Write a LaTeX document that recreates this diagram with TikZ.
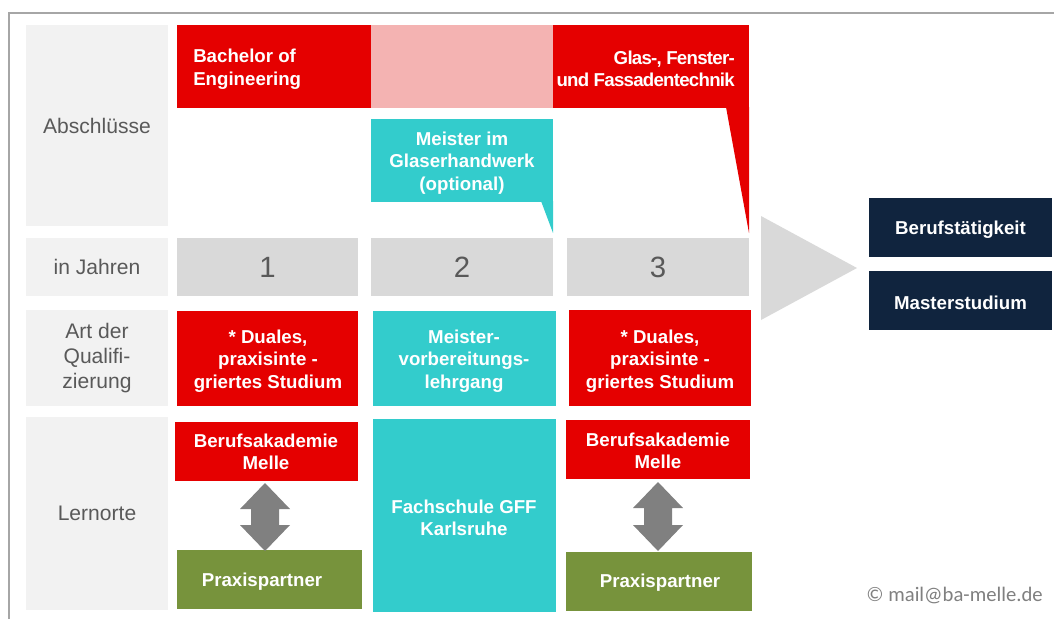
\documentclass[tikz,border=0pt]{standalone}
\usepackage{fontspec}
\setmainfont{Liberation Sans}
\newfontfamily\carlito{Carlito}
\newfontfamily\condensedbold[LetterSpace=-4]{Liberation Sans Bold}
\definecolor{cred}{HTML}{E50000}
\definecolor{cpink}{HTML}{F4B3B2}
\definecolor{ccyan}{HTML}{33CCCC}
\definecolor{cgreen}{HTML}{77933C}
\definecolor{cnavy}{HTML}{10243E}
\definecolor{clabel}{HTML}{F2F2F2}
\definecolor{cyear}{HTML}{D9D9D9}
\definecolor{ctext}{HTML}{595959}
\definecolor{cframe}{HTML}{A6A6A6}
\definecolor{carrow}{HTML}{808080}
\tikzset{
  px/.style={x=0.75pt,y=-0.75pt},
  btext/.style={text=white,font=\bfseries\fontsize{14}{17}\selectfont,inner sep=0pt,yshift=-1.8pt},
  ltext/.style={text=ctext,font=\fontsize{15.8}{18.5}\selectfont,inner sep=0pt,align=center},
  ytext/.style={text=ctext,font=\fontsize{22}{26}\selectfont,inner sep=0pt},
}
\newcommand{\boxat}[6]{% name, color, x1, y1, x2, y2
  \path[fill=#2] (#3,#4) rectangle (#5,#6);
  \coordinate (#1) at ({(#3+#5)/2},{(#4+#6)/2});
}
\begin{document}
\begin{tikzpicture}[px]
\useasboundingbox (0,0) rectangle (1054,619);
% frame
\draw[cframe,line width=1.5pt] (9,619) -- (9,13) -- (1054,13);
% label column
\boxat{labA}{clabel}{26}{25}{168}{226}
\boxat{labJ}{clabel}{26}{238}{168}{296}
\boxat{labQ}{clabel}{26}{310}{168}{406}
\boxat{labL}{clabel}{26}{417}{168}{610}
\node[ltext] (tA) at (labA) {Abschlüsse};
\node[ltext] (tJ) at (labJ) {in Jahren};
\node[ltext] (tQ) at (labQ) {Art der\\Qualifi-\\zierung};
\node[ltext] (tL) at (labL) {Lernorte};
% Abschluesse row
\boxat{bach}{cred}{177}{25}{371}{108}
\boxat{pink}{cpink}{371}{25}{553}{108}
\boxat{glas}{cred}{553}{25}{749}{108}
\fill[cred] (726,107) -- (749,107) -- (749,233) -- cycle;
\boxat{meist}{ccyan}{371}{119}{553}{202}
\fill[ccyan] (541,201) -- (553,201) -- (553,233) -- cycle;
\node[btext,align=left,anchor=west] (tbach) at (193,66.5) {Bachelor of\\Engineering};
\node[btext,align=right,anchor=east,font=\condensedbold\fontsize{14}{17}\selectfont] (tglas) at (735,66.5) {Glas-, Fenster-\\und Fassadentechnik};
\node[btext,align=center] (tmeist) at (462,160.5) {Meister im\\Glaserhandwerk\\(optional)};
% years row
\boxat{y1}{cyear}{177}{238}{358}{296}
\boxat{y2}{cyear}{371}{238}{553}{296}
\boxat{y3}{cyear}{567}{238}{749}{296}
\node[ytext] (ty1) at (y1) {1};
\node[ytext] (ty2) at (y2) {2};
\node[ytext] (ty3) at (y3) {3};
% big triangle
\fill[cyear] (761,216) -- (857,268) -- (761,320) -- cycle;
\boxat{beruf}{cnavy}{869}{198}{1052}{257}
\boxat{master}{cnavy}{869}{271}{1052}{330}
\node[btext] (tberuf) at (beruf) {Berufstätigkeit};
\node[btext] (tmaster) at (master) {Masterstudium};
% qualification row
\boxat{q1}{cred}{177}{311}{358}{406}
\boxat{q2}{ccyan}{373}{311}{556}{406}
\boxat{q3}{cred}{569}{310}{751}{406}
\node[btext,align=center] (tq1) at (268,358.5) {* Duales,\\praxisinte -\\griertes Studium};
\node[btext,align=center] (tq2) at (464,358.5) {Meister-\\vorbereitungs-\\lehrgang};
\node[btext,align=center] (tq3) at (660,358.5) {* Duales,\\praxisinte -\\griertes Studium};
% Lernorte row
\boxat{ba1}{cred}{175}{422}{358}{481}
\boxat{pp1}{cgreen}{177}{550}{362}{609}
\boxat{fs}{ccyan}{373}{419}{556}{612}
\boxat{ba3}{cred}{566}{420}{750}{479}
\boxat{pp3}{cgreen}{566}{552}{752}{611}
\node[btext,align=center] (tba1) at (266,449.5) {Berufsakademie\\Melle};
\node[btext,align=center] (tfs) at (464,515.5) {Fachschule GFF\\Karlsruhe};
\node[btext,align=center] (tba3) at (658,448.5) {Berufsakademie\\Melle};
\node[btext] (tpp1) at (262,579) {Praxispartner};
\node[btext] (tpp3) at (660,580) {Praxispartner};
% double arrows
\fill[carrow] (265,483) -- (290,509) -- (279,509) -- (279,525) -- (290,525) -- (265,551) -- (240,525) -- (251,525) -- (251,509) -- (240,509) -- cycle;
\fill[carrow] (658,482) -- (683,508) -- (672,508) -- (672,525) -- (683,525) -- (658,551) -- (633,525) -- (644,525) -- (644,508) -- (633,508) -- cycle;
% copyright
\node[text=carrow,font=\carlito\fontsize{15.5}{18}\selectfont,anchor=east,inner sep=0pt] (copy) at (1043,595) {© mail@ba-melle.de};
\end{tikzpicture}
\end{document}
